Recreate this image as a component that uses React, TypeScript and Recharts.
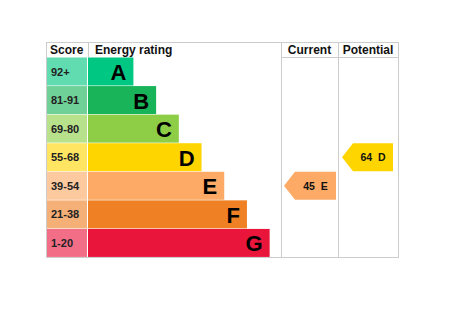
import React from 'react';
import { Bar, BarChart, Customized, XAxis, YAxis } from 'recharts';

const bands = ['A', 'B', 'C', 'D', 'E', 'F', 'G'];
const scoreRanges = ['92+', '81-91', '69-80', '55-68', '39-54', '21-38', '1-20'];
const bandMinScores = [92, 81, 69, 55, 39, 21, 1];
const barLengths = [20, 30, 40, 50, 60, 70, 80];
const bandColors = ['#00c781', '#19b459', '#8dce46', '#ffd500', '#fcaa65', '#ef8023', '#e9153b'];

const currentScore = 45;
const potentialScore = 64;

const W = 434;
const H = 302;
const FONT = '"Liberation Sans", Arial, sans-serif';

// table layout (chart coords)
const TABLE_LEFT = 38;
const TABLE_TOP = 34;
const HEADER_BOTTOM = 49;
const SCORE_RIGHT = 80;
const RATING_RIGHT = 273;
const CURRENT_RIGHT = 330;
const TABLE_RIGHT = 390;
const TABLE_BOTTOM = 249;

const bandIndexFor = (score: number) => bandMinScores.findIndex((min) => score >= min);

const data = bands.map((band, i) => ({
  band,
  range: scoreRanges[i],
  length: barLengths[i],
  color: bandColors[i],
}));

const Arrow = ({ left, right, y, height, color, score, band }: any) => {
  const tip = 11;
  const mid = y + height / 2;
  const points = `${left},${mid} ${left + tip},${y} ${right},${y} ${right},${y + height} ${left + tip},${y + height}`;
  return (
    <g>
      <polygon points={points} fill={color} />
      <text
        x={(left + tip + right) / 2}
        y={mid}
        textAnchor="middle"
        dominantBaseline="central"
        fontFamily={FONT}
        fontWeight="bold"
        fontSize={10.5}
        fill="#111"
        style={{ whiteSpace: 'pre' }}
      >
        {`${score}  ${band}`}
      </text>
    </g>
  );
};

const RowShape = (props: any) => {
  const { x, y, width, height, index } = props;
  const color = bandColors[index];
  const cellX = TABLE_LEFT + 1;
  const cur = bandIndexFor(currentScore);
  const pot = bandIndexFor(potentialScore);
  return (
    <g>
      <rect x={cellX} y={y} width={x - cellX - 1} height={height} fill={color} fillOpacity={0.62} />
      <text
        x={cellX + 4}
        y={y + height / 2}
        dominantBaseline="central"
        fontFamily={FONT}
        fontWeight="bold"
        fontSize={11}
        fill="#222"
      >
        {scoreRanges[index]}
      </text>
      <rect x={x} y={y} width={width} height={height} fill={color} />
      <text
        x={x + width - 7}
        y={y + height / 2 + 1}
        textAnchor="end"
        dominantBaseline="central"
        fontFamily={FONT}
        fontWeight="bold"
        fontSize={22}
        fill="#000"
      >
        {bands[index]}
      </text>
      {index === cur && (
        <Arrow
          left={RATING_RIGHT + 3}
          right={CURRENT_RIGHT - 2}
          y={y}
          height={height}
          color={color}
          score={currentScore}
          band={bands[cur]}
        />
      )}
      {index === pot && (
        <Arrow
          left={CURRENT_RIGHT + 4}
          right={TABLE_RIGHT - 5}
          y={y}
          height={height}
          color={color}
          score={potentialScore}
          band={bands[pot]}
        />
      )}
    </g>
  );
};

const TableFrame = () => {
  const line = '#cccccc';
  const headText = { fontFamily: FONT, fontWeight: 'bold', fontSize: 12, fill: '#111' } as const;
  const headY = HEADER_BOTTOM - 3;
  return (
    <g>
      <rect
        x={TABLE_LEFT + 0.5}
        y={TABLE_TOP + 0.5}
        width={TABLE_RIGHT - TABLE_LEFT}
        height={TABLE_BOTTOM - TABLE_TOP}
        fill="none"
        stroke={line}
      />
      <line x1={SCORE_RIGHT + 0.5} y1={TABLE_TOP} x2={SCORE_RIGHT + 0.5} y2={HEADER_BOTTOM} stroke={line} />
      <line x1={RATING_RIGHT + 0.5} y1={TABLE_TOP} x2={RATING_RIGHT + 0.5} y2={TABLE_BOTTOM} stroke={line} />
      <line x1={CURRENT_RIGHT + 0.5} y1={TABLE_TOP} x2={CURRENT_RIGHT + 0.5} y2={TABLE_BOTTOM} stroke={line} />
      <line x1={RATING_RIGHT} y1={HEADER_BOTTOM + 0.5} x2={TABLE_RIGHT} y2={HEADER_BOTTOM + 0.5} stroke={line} />
      <text x={TABLE_LEFT + 4} y={headY} {...headText}>Score</text>
      <text x={SCORE_RIGHT + 7} y={headY} {...headText}>Energy rating</text>
      <text x={(RATING_RIGHT + CURRENT_RIGHT) / 2} y={headY} textAnchor="middle" {...headText}>Current</text>
      <text x={(CURRENT_RIGHT + TABLE_RIGHT) / 2} y={headY} textAnchor="middle" {...headText}>Potential</text>
    </g>
  );
};

export default function App() {
  return (
    <BarChart
      width={W}
      height={H}
      data={data}
      layout="vertical"
      barCategoryGap={0.5}
      margin={{ top: HEADER_BOTTOM, left: SCORE_RIGHT, right: W - RATING_RIGHT, bottom: H - TABLE_BOTTOM }}
    >
      <Customized component={TableFrame} />
      <XAxis type="number" domain={[0, 85]} hide />
      <YAxis type="category" dataKey="band" hide />
      <Bar dataKey="length" shape={RowShape} isAnimationActive={false} />
    </BarChart>
  );
}
